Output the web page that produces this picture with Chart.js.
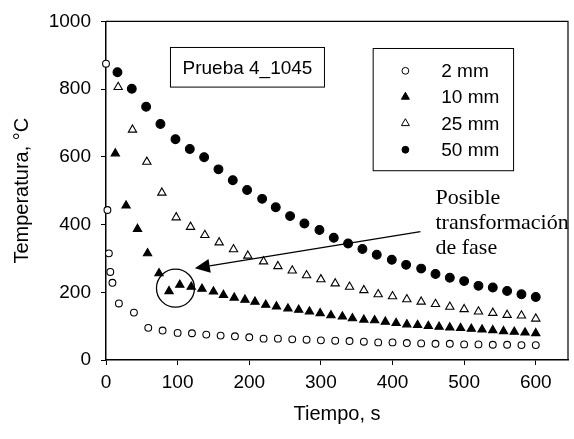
<!DOCTYPE html>
<html>
<head>
<meta charset="utf-8">
<script src="https://cdn.jsdelivr.net/npm/chart.js"></script>
<style>
  body { margin: 0; background: #fff; }
  canvas { display: block; }
</style>
</head>
<body>
<canvas id="chart" width="574" height="439"></canvas>
<script>
// data (time in s, temperature in °C)
const t2 = [0, 2, 4, 6, 9, 18, 39, 59, 79, 100, 120, 140, 160, 180, 200, 220, 240, 260, 280, 300, 320, 340, 360, 380, 400, 420, 440, 460, 480, 500, 520, 540, 560, 580, 600];
const temp2 = [875, 443, 315, 260, 228, 167, 140, 95, 87, 80, 79, 75, 72, 70, 67, 63, 63, 61, 60, 58, 57, 56, 54, 52, 52, 50, 49, 48, 48, 46, 46, 45, 45, 44, 44];

const t10 = [13, 28, 44, 58, 74, 88, 103, 119, 134, 150, 164, 179, 194, 208, 223, 238, 254, 269, 284, 299, 314, 330, 344, 360, 375, 390, 405, 420, 435, 450, 465, 480, 495, 510, 525, 540, 555, 570, 585, 600];
const temp10 = [610, 456, 387, 315, 256, 203, 222, 216, 210, 202, 192, 184, 178, 172, 163, 158, 152, 148, 143, 138, 132, 128, 123, 119, 117, 113, 109, 105, 103, 100, 98, 96, 94, 92, 90, 88, 85, 83, 81, 79];

const t25 = [17, 37, 57, 78, 98, 118, 138, 158, 178, 198, 220, 240, 260, 280, 300, 320, 340, 360, 380, 400, 420, 440, 460, 480, 500, 520, 540, 560, 580, 600];
const temp25 = [806, 680, 585, 494, 421, 393, 369, 347, 327, 308, 291, 277, 264, 250, 238, 226, 216, 206, 194, 188, 179, 172, 165, 157, 150, 143, 139, 133, 131, 122];

const t50 = [16, 36, 56, 76, 97, 117, 137, 157, 177, 197, 218, 237, 257, 277, 298, 318, 338, 358, 378, 399, 419, 440, 460, 480, 500, 520, 540, 560, 580, 600];
const temp50 = [850, 801, 748, 697, 652, 623, 599, 563, 531, 502, 476, 451, 425, 403, 384, 361, 344, 328, 311, 296, 281, 270, 254, 243, 233, 219, 214, 204, 194, 186];

const seriesNames = ['2 mm', '10 mm', '25 mm', '50 mm'];
const xTicks = [0, 100, 200, 300, 400, 500, 600];
const yTicks = [0, 200, 400, 600, 800, 1000];

const ARIAL = 'Arial, "Liberation Sans", sans-serif';
const TIMES = '"Times New Roman", "Liberation Serif", serif';

function pts(xs, ys) {
  return xs.map((x, i) => ({ x: x, y: ys[i] }));
}

const styles = [
  { pointStyle: 'circle', radius: 3.4, fill: '#fff' },
  { pointStyle: 'triangle', radius: 4.8, fill: '#000' },
  { pointStyle: 'triangle', radius: 4.8, fill: '#fff' },
  { pointStyle: 'circle', radius: 4.4, fill: '#000' }
];
const allData = [pts(t2, temp2), pts(t10, temp10), pts(t25, temp25), pts(t50, temp50)];

const datasets = allData.map((d, i) => ({
  label: seriesNames[i],
  data: d,
  showLine: false,
  pointStyle: styles[i].pointStyle,
  pointRadius: styles[i].radius,
  pointBackgroundColor: styles[i].fill,
  pointBorderColor: '#000',
  pointBorderWidth: 1.1,
  clip: false
}));

// frame, text boxes, legend and the arrow note
const extras = {
  id: 'extras',
  afterDraw(chart) {
    const ctx = chart.ctx;
    const xs = chart.scales.x, ys = chart.scales.y;
    const px = v => xs.getPixelForValue(v);
    const py = v => ys.getPixelForValue(v);
    const a = chart.chartArea;
    ctx.save();
    ctx.strokeStyle = '#000';
    ctx.fillStyle = '#000';

    // top and right border of the plot
    ctx.lineWidth = 1.2;
    ctx.beginPath();
    ctx.moveTo(a.left, a.top);
    ctx.lineTo(a.right, a.top);
    ctx.lineTo(a.right, a.bottom);
    ctx.stroke();

    // "Prueba 4_1045" box
    ctx.lineWidth = 1;
    const bx1 = px(90), bx2 = px(305), by1 = py(923), by2 = py(806);
    ctx.strokeRect(bx1, by1, bx2 - bx1, by2 - by1);
    ctx.font = '19px ' + ARIAL;
    ctx.textAlign = 'center';
    ctx.textBaseline = 'middle';
    ctx.fillText('Prueba 4_1045', (bx1 + bx2) / 2, (by1 + by2) / 2 + 1);

    // legend
    const lx1 = px(373), lx2 = px(569), ly1 = py(920), ly2 = py(559);
    ctx.strokeRect(lx1, ly1, lx2 - lx1, ly2 - ly1);
    const rows = [854, 777, 699, 621];
    ctx.textAlign = 'left';
    rows.forEach((r, i) => {
      const mx = px(418), my = py(r);
      ctx.beginPath();
      if (styles[i].pointStyle === 'circle') {
        ctx.arc(mx, my, 3.4, 0, Math.PI * 2);
      } else {
        const s = 4.6;
        ctx.moveTo(mx, my - s);
        ctx.lineTo(mx + s * 0.866, my + s * 0.5);
        ctx.lineTo(mx - s * 0.866, my + s * 0.5);
        ctx.closePath();
      }
      ctx.fillStyle = styles[i].fill;
      ctx.fill();
      ctx.stroke();
      ctx.fillStyle = '#000';
      ctx.fillText(seriesNames[i], px(468), my + 1);
    });

    // circle around the anomaly
    ctx.lineWidth = 1.3;
    ctx.beginPath();
    ctx.arc(px(97), py(212), 19, 0, Math.PI * 2);
    ctx.stroke();

    // arrow
    const x0 = px(439), y0 = py(379), x1 = px(124), y1 = py(271);
    const ang = Math.atan2(y1 - y0, x1 - x0);
    const hl = 15, hw = 7;
    const bxp = x1 - Math.cos(ang) * hl, byp = y1 - Math.sin(ang) * hl;
    ctx.beginPath();
    ctx.moveTo(x0, y0);
    ctx.lineTo(bxp, byp);
    ctx.stroke();
    ctx.beginPath();
    ctx.moveTo(x1, y1);
    ctx.lineTo(bxp - Math.sin(ang) * hw, byp + Math.cos(ang) * hw);
    ctx.lineTo(bxp + Math.sin(ang) * hw, byp - Math.cos(ang) * hw);
    ctx.closePath();
    ctx.fill();

    // note text
    ctx.font = '22px ' + TIMES;
    ctx.textBaseline = 'alphabetic';
    ctx.fillText('Posible', px(460), py(461));
    ctx.fillText('transformación', px(460), py(388));
    ctx.fillText('de fase', px(460), py(313));
    ctx.restore();
  }
};

new Chart(document.getElementById('chart'), {
  type: 'scatter',
  data: { datasets: datasets },
  options: {
    responsive: false,
    animation: false,
    layout: { padding: { top: 17, right: 6, left: 0, bottom: 0 } },
    plugins: {
      legend: { display: false },
      tooltip: { enabled: false }
    },
    scales: {
      x: {
        type: 'linear',
        min: 0,
        max: 645,
        afterBuildTicks: s => { s.ticks = xTicks.map(v => ({ value: v })); },
        afterFit: s => { s.height = 79; },
        grid: { drawOnChartArea: false, tickLength: 5, color: '#000', lineWidth: 1 },
        border: { color: '#000', width: 1.5 },
        ticks: { color: '#000', font: { family: ARIAL, size: 19 }, padding: 6, maxRotation: 0, callback: v => String(v) },
        title: { display: true, text: 'Tiempo, s', color: '#000', font: { family: ARIAL, size: 20 }, padding: { top: 0, bottom: 13 } }
      },
      y: {
        type: 'linear',
        min: 0,
        max: 1000,
        afterBuildTicks: s => { s.ticks = yTicks.map(v => ({ value: v })); },
        afterFit: s => { s.width = 106; },
        grid: { drawOnChartArea: false, tickLength: 5, color: '#000', lineWidth: 1 },
        border: { color: '#000', width: 1.5 },
        ticks: { color: '#000', font: { family: ARIAL, size: 19 }, padding: 10, callback: v => String(v) },
        title: { display: true, text: 'Temperatura, °C', color: '#000', font: { family: ARIAL, size: 20 }, padding: { top: 10, bottom: 0 } }
      }
    }
  },
  plugins: [extras]
});
</script>
</body>
</html>
